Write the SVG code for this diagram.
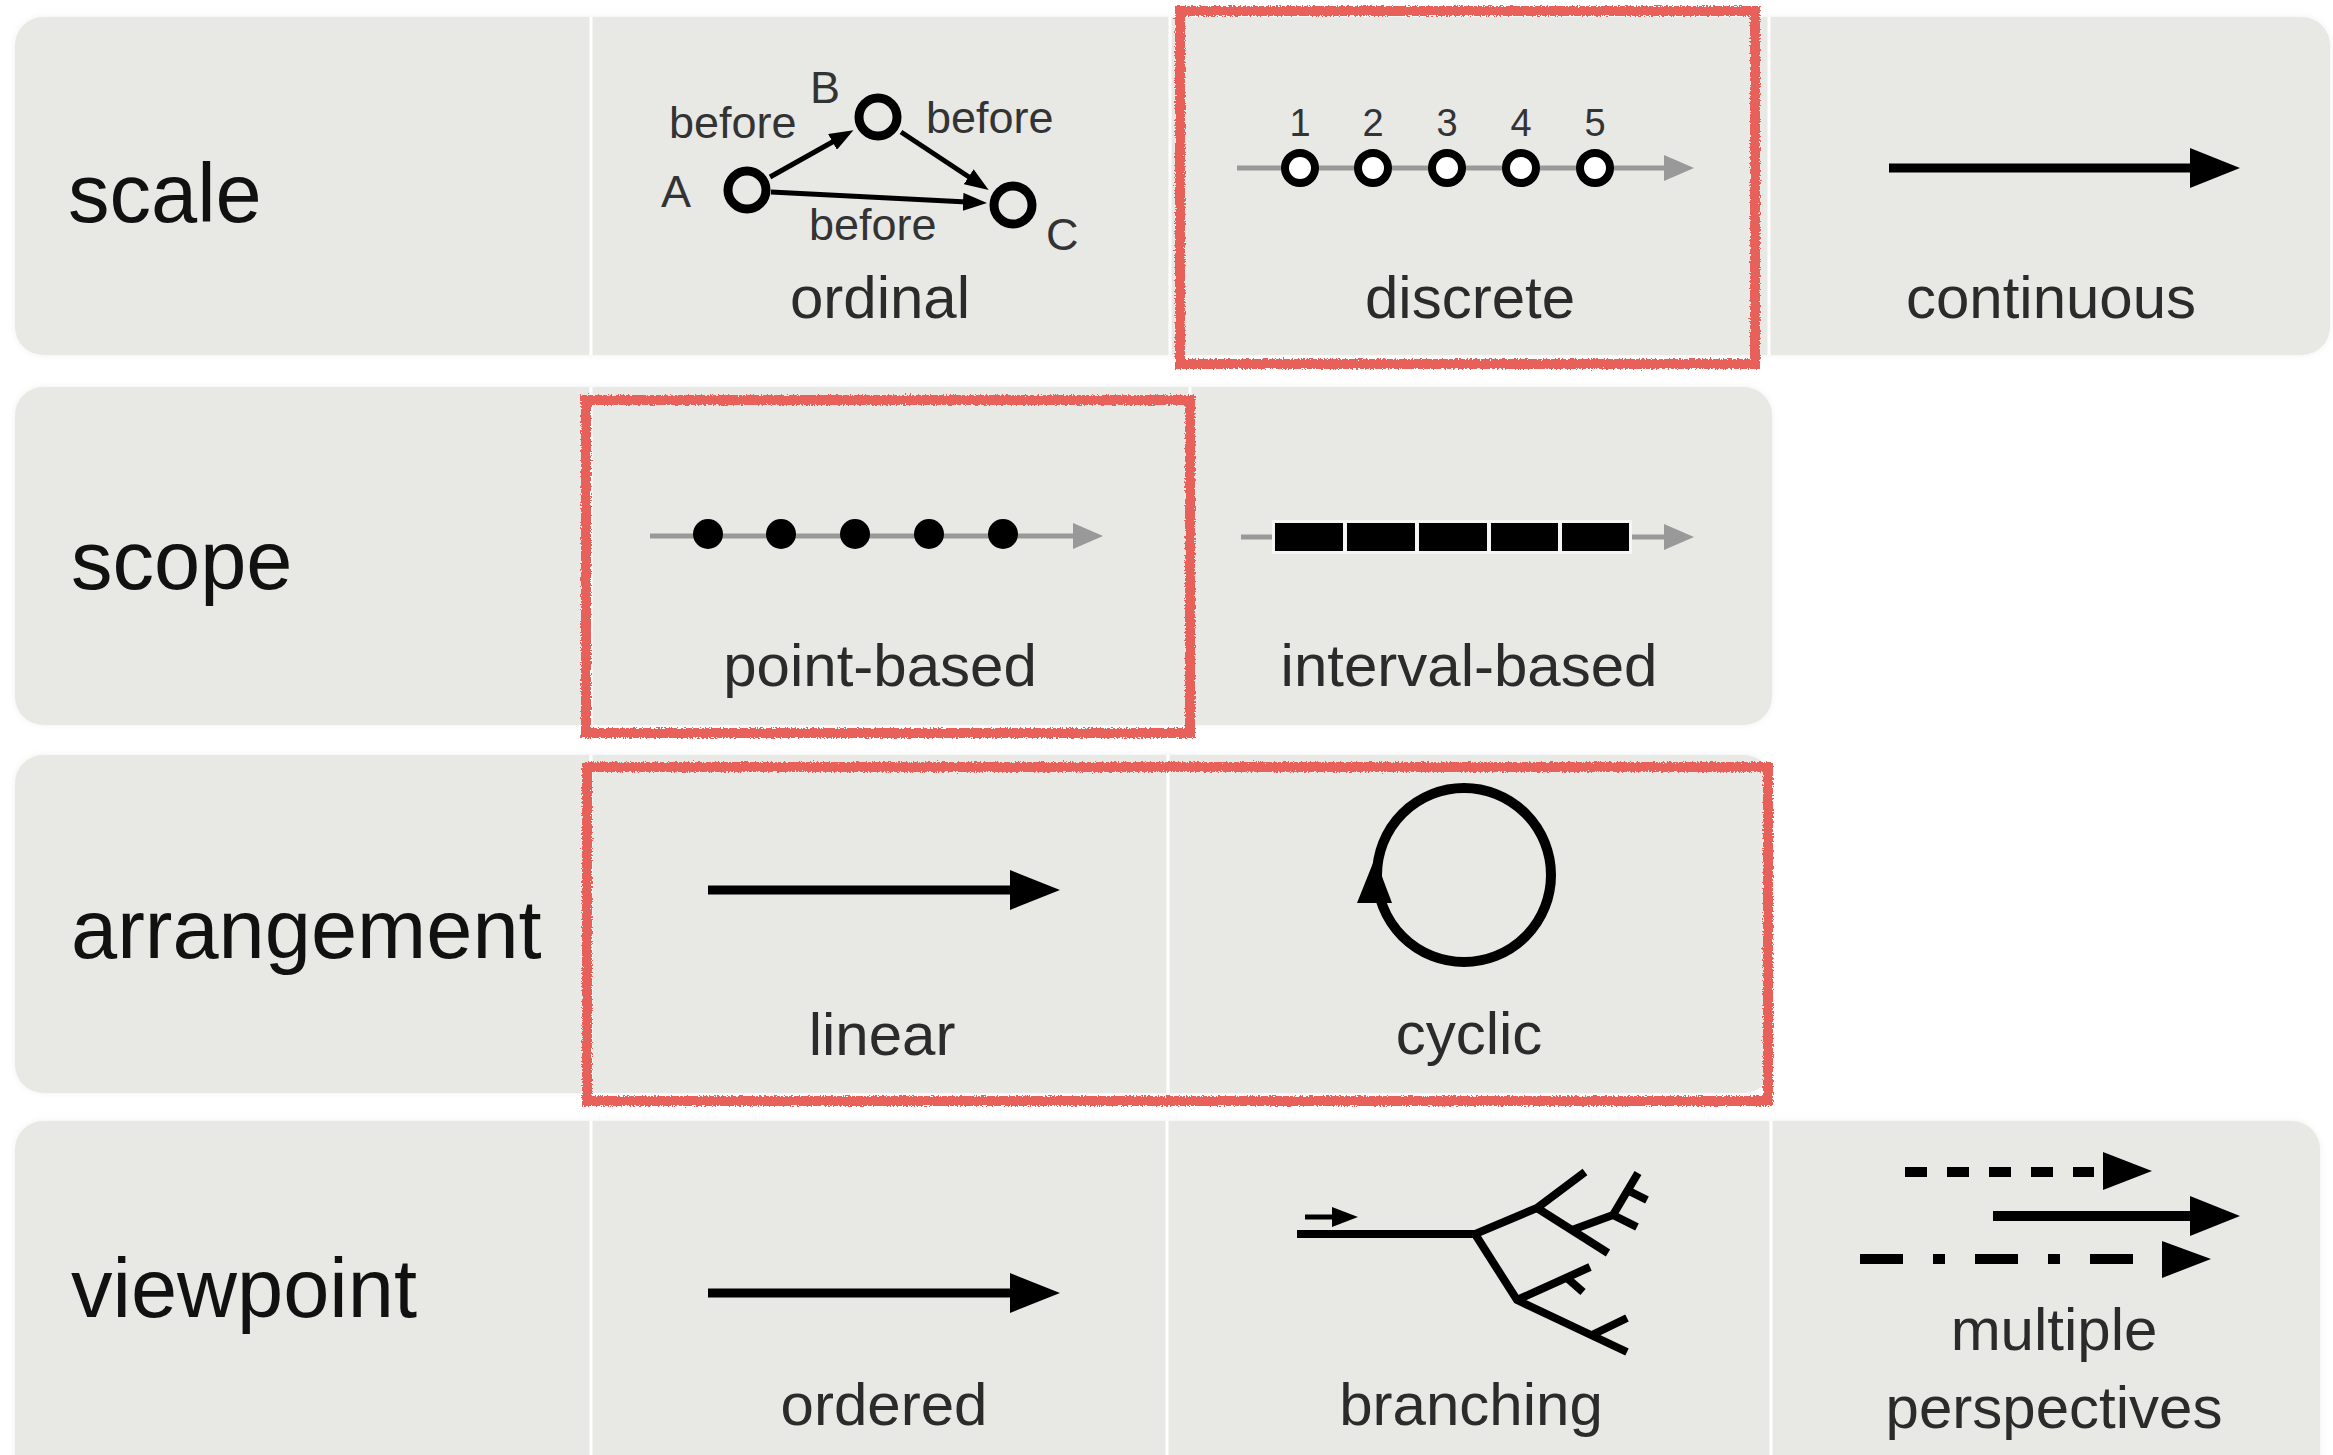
<svg xmlns="http://www.w3.org/2000/svg" width="2333" height="1455" viewBox="0 0 2333 1455">
<style>
  .row { fill: #e8e8e5; }
  .div { stroke: #ffffff; stroke-width: 3; }
  .cat { font-family: "Liberation Sans", Arial, Helvetica, sans-serif; font-size: 83px; fill: #111111; }
  .lbl { font-family: "Liberation Sans", Arial, Helvetica, sans-serif; font-size: 60px; fill: #2b2b2b; text-anchor: middle; }
  .sm { font-family: "Liberation Sans", Arial, Helvetica, sans-serif; font-size: 45px; fill: #333333; }
  .num { font-family: "Liberation Sans", Arial, Helvetica, sans-serif; font-size: 38px; fill: #333333; text-anchor: middle; }
  .blk { stroke: #000000; fill: none; }
  .gray { stroke: #999999; stroke-width: 5; fill: none; }
  .hl { fill: none; stroke: #e8605a; stroke-width: 10; }
  .br { stroke: #000000; stroke-width: 8; fill: none; stroke-linecap: butt; stroke-linejoin: miter; }
</style>
<defs>
  <filter id="rough" x="-5%" y="-5%" width="110%" height="110%">
    <feTurbulence type="fractalNoise" baseFrequency="0.6" numOctaves="2" seed="3" result="n"/>
    <feDisplacementMap in="SourceGraphic" in2="n" scale="5" xChannelSelector="R" yChannelSelector="G"/>
  </filter>
  <filter id="soft" x="-2%" y="-5%" width="104%" height="110%">
    <feDropShadow dx="0" dy="0" stdDeviation="3" flood-color="#000000" flood-opacity="0.06"/>
  </filter>
  <!-- line ends 6px inside the base of each head; head extends beyond the line end -->
  <marker id="ahBig" markerUnits="userSpaceOnUse" markerWidth="50" markerHeight="40" refX="6" refY="20" orient="auto">
    <path d="M0,0 L50,20 L0,40 z" fill="#000000"/>
  </marker>
  <marker id="ahGray" markerUnits="userSpaceOnUse" markerWidth="30" markerHeight="26" refX="4" refY="13" orient="auto">
    <path d="M0,0 L30,13 L0,26 z" fill="#999999"/>
  </marker>
  <marker id="ahSmall" markerUnits="userSpaceOnUse" markerWidth="24" markerHeight="18" refX="4" refY="9" orient="auto">
    <path d="M0,0 L24,9 L0,18 z" fill="#000000"/>
  </marker>
  <marker id="ahTiny" markerUnits="userSpaceOnUse" markerWidth="26" markerHeight="20" refX="4" refY="10" orient="auto">
    <path d="M0,0 L26,10 L0,20 z" fill="#000000"/>
  </marker>
</defs>

<rect width="2333" height="1455" fill="#ffffff"/>

<!-- row backgrounds -->
<g id="rows" filter="url(#soft)">
  <rect class="row" x="15" y="17" width="2315" height="338" rx="28"/>
  <rect class="row" x="15" y="387" width="1757" height="338" rx="28"/>
  <rect class="row" x="15" y="755" width="1757" height="338" rx="28"/>
  <rect class="row" x="15" y="1121" width="2305" height="380" rx="28"/>
</g>
<g id="dividers">
  <line class="div" x1="591" y1="17" x2="591" y2="355"/>
  <line class="div" x1="1170" y1="17" x2="1170" y2="355"/>
  <line class="div" x1="1769" y1="17" x2="1769" y2="355"/>
  <line class="div" x1="591" y1="387" x2="591" y2="725"/>
  <line class="div" x1="1190" y1="387" x2="1190" y2="725"/>
  <line class="div" x1="591" y1="755" x2="591" y2="1093"/>
  <line class="div" x1="1168" y1="755" x2="1168" y2="1093"/>
  <line class="div" x1="591" y1="1121" x2="591" y2="1455"/>
  <line class="div" x1="1167" y1="1121" x2="1167" y2="1455"/>
  <line class="div" x1="1771" y1="1121" x2="1771" y2="1455"/>
</g>

<!-- category labels -->
<g id="cat-scale"><text class="cat" x="68" y="222">scale</text></g>
<g id="cat-scope"><text class="cat" x="71" y="589">scope</text></g>
<g id="cat-arrangement"><text class="cat" x="71" y="958">arrangement</text></g>
<g id="cat-viewpoint"><text class="cat" x="71" y="1317">viewpoint</text></g>

<!-- ordinal -->
<g id="ordinal">
  <circle class="blk" cx="747" cy="190" r="19" stroke-width="9"/>
  <circle class="blk" cx="878" cy="117" r="19" stroke-width="9"/>
  <circle class="blk" cx="1013" cy="205" r="19" stroke-width="9"/>
  <text class="sm" x="661" y="207">A</text>
  <text class="sm" x="810" y="103">B</text>
  <text class="sm" x="1046" y="250">C</text>
  <text class="sm" x="669" y="138">before</text>
  <text class="sm" x="926" y="133">before</text>
  <text class="sm" x="809" y="240">before</text>
  <text class="lbl" x="880" y="318">ordinal</text>
</g>
<g id="connectors">
  <line class="blk" stroke-width="5" x1="770" y1="177" x2="836" y2="140" marker-end="url(#ahSmall)"/>
  <line class="blk" stroke-width="5" x1="901" y1="132" x2="972" y2="179" marker-end="url(#ahSmall)"/>
  <line class="blk" stroke-width="5" x1="771" y1="192" x2="967" y2="202" marker-end="url(#ahSmall)"/>
</g>

<!-- discrete -->
<g id="discrete">
  <line class="gray" x1="1237" y1="168" x2="1668" y2="168" marker-end="url(#ahGray)"/>
  <circle cx="1300" cy="168" r="15" fill="#ffffff" stroke="#000000" stroke-width="8"/>
  <circle cx="1373" cy="168" r="15" fill="#ffffff" stroke="#000000" stroke-width="8"/>
  <circle cx="1447" cy="168" r="15" fill="#ffffff" stroke="#000000" stroke-width="8"/>
  <circle cx="1521" cy="168" r="15" fill="#ffffff" stroke="#000000" stroke-width="8"/>
  <circle cx="1595" cy="168" r="15" fill="#ffffff" stroke="#000000" stroke-width="8"/>
  <text class="num" x="1300" y="136">1</text>
  <text class="num" x="1373" y="136">2</text>
  <text class="num" x="1447" y="136">3</text>
  <text class="num" x="1521" y="136">4</text>
  <text class="num" x="1595" y="136">5</text>
  <text class="lbl" x="1470" y="318">discrete</text>
</g>

<!-- continuous -->
<g id="continuous">
  <line class="blk" stroke-width="9" x1="1889" y1="168" x2="2196" y2="168" marker-end="url(#ahBig)"/>
  <text class="lbl" x="2051" y="318">continuous</text>
</g>

<!-- point-based -->
<g id="point-based">
  <line class="gray" x1="650" y1="536" x2="1077" y2="536" marker-end="url(#ahGray)"/>
  <circle cx="708" cy="534" r="15" fill="#000000"/>
  <circle cx="781" cy="534" r="15" fill="#000000"/>
  <circle cx="855" cy="534" r="15" fill="#000000"/>
  <circle cx="929" cy="534" r="15" fill="#000000"/>
  <circle cx="1003" cy="534" r="15" fill="#000000"/>
  <text class="lbl" x="880" y="686">point-based</text>
</g>

<!-- interval-based -->
<g id="interval-based">
  <line class="gray" x1="1241" y1="537" x2="1276" y2="537"/>
  <line class="gray" x1="1628" y1="537" x2="1668" y2="537" marker-end="url(#ahGray)"/>
  <rect x="1272" y="520" width="360" height="34" fill="#f6f6f4"/>
  <rect x="1275" y="523" width="68" height="28" fill="#000000"/>
  <rect x="1347" y="523" width="68" height="28" fill="#000000"/>
  <rect x="1419" y="523" width="68" height="28" fill="#000000"/>
  <rect x="1491" y="523" width="67" height="28" fill="#000000"/>
  <rect x="1562" y="523" width="67" height="28" fill="#000000"/>
  <text class="lbl" x="1469" y="686">interval-based</text>
</g>

<!-- linear -->
<g id="linear">
  <line class="blk" stroke-width="9" x1="708" y1="890" x2="1016" y2="890" marker-end="url(#ahBig)"/>
  <text class="lbl" x="882" y="1055">linear</text>
</g>

<!-- cyclic -->
<g id="cyclic">
  <circle class="blk" stroke-width="10" cx="1464" cy="875" r="87"/>
  <polygon points="1375,858 1357,903 1392,903" fill="#000000"/>
  <text class="lbl" x="1469" y="1054">cyclic</text>
</g>

<!-- ordered -->
<g id="ordered">
  <line class="blk" stroke-width="9" x1="708" y1="1293" x2="1016" y2="1293" marker-end="url(#ahBig)"/>
  <text class="lbl" x="884" y="1425">ordered</text>
</g>

<!-- branching -->
<g id="branching">
  <line class="blk" stroke-width="5" x1="1305" y1="1217" x2="1336" y2="1217" marker-end="url(#ahTiny)"/>
  <line class="br" stroke-width="11" x1="1297" y1="1234" x2="1476" y2="1234"/>
  <polyline class="br" points="1585,1172 1537,1208 1475,1234 1517,1300 1627,1352"/>
  <polyline class="br" points="1537,1208 1608,1253"/>
  <polyline class="br" points="1572,1230 1613,1215 1638,1173"/>
  <polyline class="br" points="1613,1215 1637,1227"/>
  <polyline class="br" points="1627,1190 1647,1200"/>
  <polyline class="br" points="1517,1300 1590,1267"/>
  <polyline class="br" points="1567,1278 1583,1292"/>
  <polyline class="br" points="1592,1335 1627,1318"/>
  <text class="lbl" x="1471" y="1425">branching</text>
</g>

<!-- multiple perspectives -->
<g id="multiple-perspectives">
  <line class="blk" stroke-width="10" stroke-dasharray="22 20" x1="1905" y1="1172" x2="2094" y2="1172"/>
  <polygon points="2103,1152 2152,1171 2103,1190" fill="#000000"/>
  <line class="blk" stroke-width="10" x1="1993" y1="1216" x2="2196" y2="1216" marker-end="url(#ahBig)"/>
  <line class="blk" stroke-width="10" stroke-dasharray="43 30 12 30" x1="1860" y1="1259" x2="2133" y2="1259"/>
  <polygon points="2162,1241 2211,1259 2162,1278" fill="#000000"/>
  <text class="lbl" x="2054" y="1350">multiple</text>
  <text class="lbl" x="2054" y="1428">perspectives</text>
</g>

<!-- highlight boxes -->
<g id="highlights" filter="url(#rough)">
  <rect class="hl" x="1180" y="11" width="575" height="353"/>
  <rect class="hl" x="586" y="400" width="604" height="333"/>
  <rect class="hl" x="587" y="767" width="1181" height="334"/>
</g>
</svg>
